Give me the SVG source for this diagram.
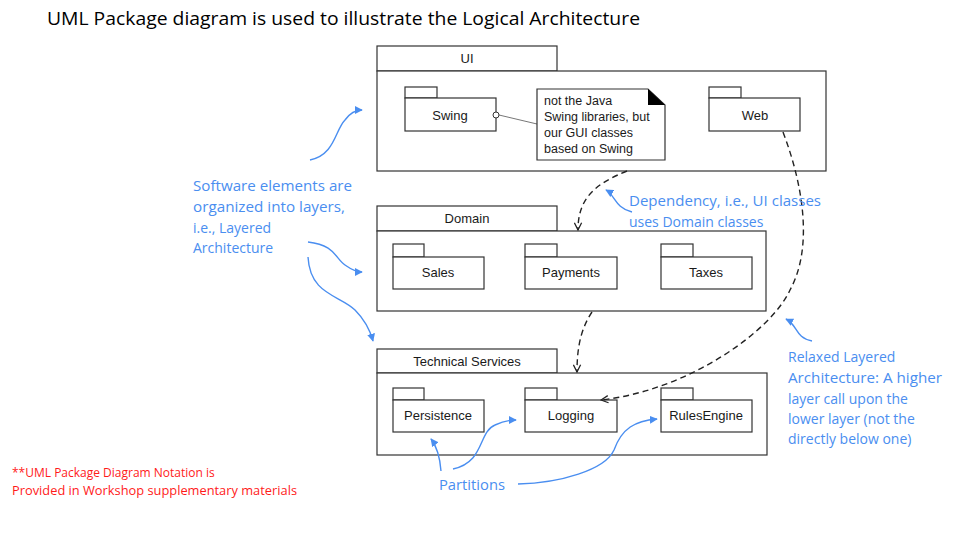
<svg xmlns="http://www.w3.org/2000/svg" width="963" height="540" viewBox="0 0 963 540">
<style>
.pk{fill:#fff;stroke:#333;stroke-width:1.2}
.lb{font-family:"Liberation Sans",Arial,sans-serif;font-size:13px;fill:#1a1a1a;text-anchor:middle}
.nt{font-family:"Liberation Sans",Arial,sans-serif;font-size:12.5px;fill:#1a1a1a}
.bl{font-family:"Open Sans","Liberation Sans",sans-serif;font-size:14px;fill:#4a8ef0}
.rd{font-family:"Open Sans","Liberation Sans",sans-serif;font-size:12px;fill:#ff1a1a}
.dep{fill:none;stroke:#222;stroke-width:1.4;stroke-dasharray:6 4}
.ba{fill:none;stroke:#4a8ef0;stroke-width:1.4}
</style>
<defs>
<marker id="open" viewBox="0 0 10 10" refX="9" refY="5" markerWidth="9" markerHeight="9" orient="auto" markerUnits="userSpaceOnUse">
<path d="M1 1 L9 5 L1 9" fill="none" stroke="#222" stroke-width="1.4"/>
</marker>
<marker id="blue" viewBox="0 0 10 10" refX="9" refY="5" markerWidth="8" markerHeight="8" orient="auto" markerUnits="userSpaceOnUse">
<path d="M0 0 L10 5 L0 10 Z" fill="#4a8ef0"/>
</marker>
</defs>
<rect width="963" height="540" fill="#fff"/>
<text x="47" y="25" font-family="Open Sans,Liberation Sans,sans-serif" font-size="18" fill="#000" textLength="593" lengthAdjust="spacingAndGlyphs">UML Package diagram is used to illustrate the Logical Architecture</text>

<g id="ui">
<rect class="pk" x="377" y="46" width="180" height="25"/>
<rect class="pk" x="377" y="71" width="449" height="100"/>
<text class="lb" x="467" y="63">UI</text>
</g>
<g id="swing">
<rect class="pk" x="405" y="87" width="32" height="11"/>
<rect class="pk" x="405" y="98" width="91" height="33"/>
<text class="lb" x="450" y="120">Swing</text>
</g>
<g id="note">
<line x1="499" y1="115" x2="537" y2="124" stroke="#777" stroke-width="1"/>
<circle cx="496" cy="115" r="3" fill="#fff" stroke="#333" stroke-width="1"/>
<path class="pk" d="M537 89 H648 L665 105 V160 H537 Z"/>
<path d="M648 89 L665 105 H648 Z" fill="#000"/>
<text class="nt" x="544" y="105">not the Java</text>
<text class="nt" x="544" y="121">Swing libraries, but</text>
<text class="nt" x="544" y="137">our GUI classes</text>
<text class="nt" x="544" y="153">based on Swing</text>
</g>
<g id="web">
<rect class="pk" x="709" y="87" width="32" height="11"/>
<rect class="pk" x="709" y="98" width="91" height="33"/>
<text class="lb" x="755" y="120">Web</text>
</g>

<g id="domain">
<rect class="pk" x="377" y="206" width="180" height="25"/>
<rect class="pk" x="377" y="231" width="389" height="80"/>
<text class="lb" x="467" y="223">Domain</text>
</g>
<g id="sales">
<rect class="pk" x="393" y="244" width="31" height="13"/>
<rect class="pk" x="393" y="257" width="91" height="32"/>
<text class="lb" x="438" y="277">Sales</text>
</g>
<g id="payments">
<rect class="pk" x="525" y="244" width="32" height="13"/>
<rect class="pk" x="525" y="257" width="92" height="32"/>
<text class="lb" x="571" y="277">Payments</text>
</g>
<g id="taxes">
<rect class="pk" x="661" y="244" width="32" height="13"/>
<rect class="pk" x="661" y="257" width="91" height="32"/>
<text class="lb" x="706" y="277">Taxes</text>
</g>

<g id="technical">
<rect class="pk" x="377" y="349" width="180" height="24"/>
<rect class="pk" x="377" y="373" width="390" height="82"/>
<text class="lb" x="467" y="366">Technical Services</text>
</g>
<g id="persistence">
<rect class="pk" x="393" y="388" width="31" height="12"/>
<rect class="pk" x="393" y="400" width="91" height="32"/>
<text class="lb" x="438" y="420">Persistence</text>
</g>
<g id="logging">
<rect class="pk" x="525" y="388" width="32" height="12"/>
<rect class="pk" x="525" y="400" width="92" height="32"/>
<text class="lb" x="571" y="420">Logging</text>
</g>
<g id="rules">
<rect class="pk" x="661" y="388" width="32" height="12"/>
<rect class="pk" x="661" y="400" width="91" height="32"/>
<text class="lb" x="706" y="420">RulesEngine</text>
</g>

<g id="connectors">
<path class="dep" d="M627 171 C595 184 578 198 578 230" marker-end="url(#open)"/>
<path class="dep" d="M592 312 C580 330 577 350 577 372" marker-end="url(#open)"/>
<path class="dep" d="M783 132 C805 190 812 250 790 290 C772 330 690 390 601 400" marker-end="url(#open)"/>
<path class="ba" d="M310 160 C335 155 335 130 345 120 C350 113 355 110 362 110" marker-end="url(#blue)"/>
<path class="ba" d="M308 242 C335 245 335 258 345 265 C352 270 356 272 362 272" marker-end="url(#blue)"/>
<path class="ba" d="M308 257 C310 295 340 295 355 310 C365 320 370 330 373 341" marker-end="url(#blue)"/>
<path class="ba" d="M632 212 C615 208 615 195 606 190" marker-end="url(#blue)"/>
<path class="ba" d="M812 341 C795 338 798 325 786 319" marker-end="url(#blue)"/>
<path class="ba" d="M441 471 C440 458 438 448 431 439" marker-end="url(#blue)"/>
<path class="ba" d="M453 469 C485 462 478 432 495 425 C503 421 510 420 516 420" marker-end="url(#blue)"/>
<path class="ba" d="M518 484 C560 483 605 470 614 450 C622 428 635 421 657 419" marker-end="url(#blue)"/>
</g>

<g id="annotations">
<text class="bl" x="193" y="191" textLength="159" lengthAdjust="spacingAndGlyphs">Software elements are</text>
<text class="bl" x="193" y="212" textLength="152" lengthAdjust="spacingAndGlyphs">organized into layers,</text>
<text class="bl" x="193" y="233">i.e., Layered</text>
<text class="bl" x="193" y="253">Architecture</text>
<text class="bl" x="629" y="206" textLength="192" lengthAdjust="spacingAndGlyphs">Dependency, i.e., UI classes</text>
<text class="bl" x="629" y="227">uses Domain classes</text>
<text class="bl" x="788" y="362">Relaxed Layered</text>
<text class="bl" x="788" y="383" textLength="154" lengthAdjust="spacingAndGlyphs">Architecture: A higher</text>
<text class="bl" x="788" y="404">layer call upon the</text>
<text class="bl" x="788" y="424">lower layer (not the</text>
<text class="bl" x="788" y="444">directly below one)</text>
<text class="bl" x="439" y="490" textLength="66" lengthAdjust="spacingAndGlyphs">Partitions</text>
<text class="rd" x="12" y="477">**UML Package Diagram Notation is</text>
<text class="rd" x="12" y="495" textLength="285" lengthAdjust="spacingAndGlyphs">Provided in Workshop supplementary materials</text>
</g>
</svg>
